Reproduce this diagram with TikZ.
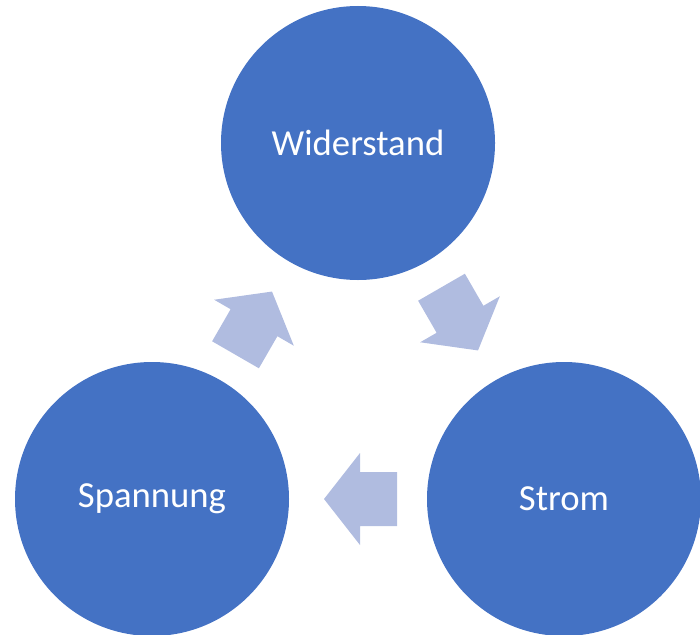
\documentclass[tikz,border=0pt]{standalone}
\usepackage{fontspec}
\setmainfont{Carlito}
\usetikzlibrary{calc}
\definecolor{cblue}{HTML}{4472C4}
\definecolor{clight}{HTML}{B0BCE0}

\begin{document}
\begin{tikzpicture}[x=1pt,y=-1pt,
    circ/.style={circle,fill=cblue,draw=none,minimum size=274pt,inner sep=0pt,
      text=white,font=\fontsize{36.7}{44}\selectfont},
    cycarrow/.pic={\fill[clight] (34,0) -- (-2,-46) -- (-2,-27) -- (-39,-27)
      -- (-39,27) -- (-2,27) -- (-2,46) -- cycle;}]
 \useasboundingbox (0,0) rectangle (700,634);
 \clip (0,0) rectangle (700,634);
 \node[circ] (wid) at (358,143) {Widerstand};
 \node[circ] (str) at (564,499) {Strom};
 \node[circ] (spa) at (152,499) {Spannung};
 \pic[rotate=60]  at ($(spa)!0.5!(wid)$) {cycarrow};
 \pic[rotate=-60] at ($(wid)!0.5!(str)$) {cycarrow};
 \pic[rotate=180] at ($(str)!0.5!(spa)$) {cycarrow};
\end{tikzpicture}
\end{document}
